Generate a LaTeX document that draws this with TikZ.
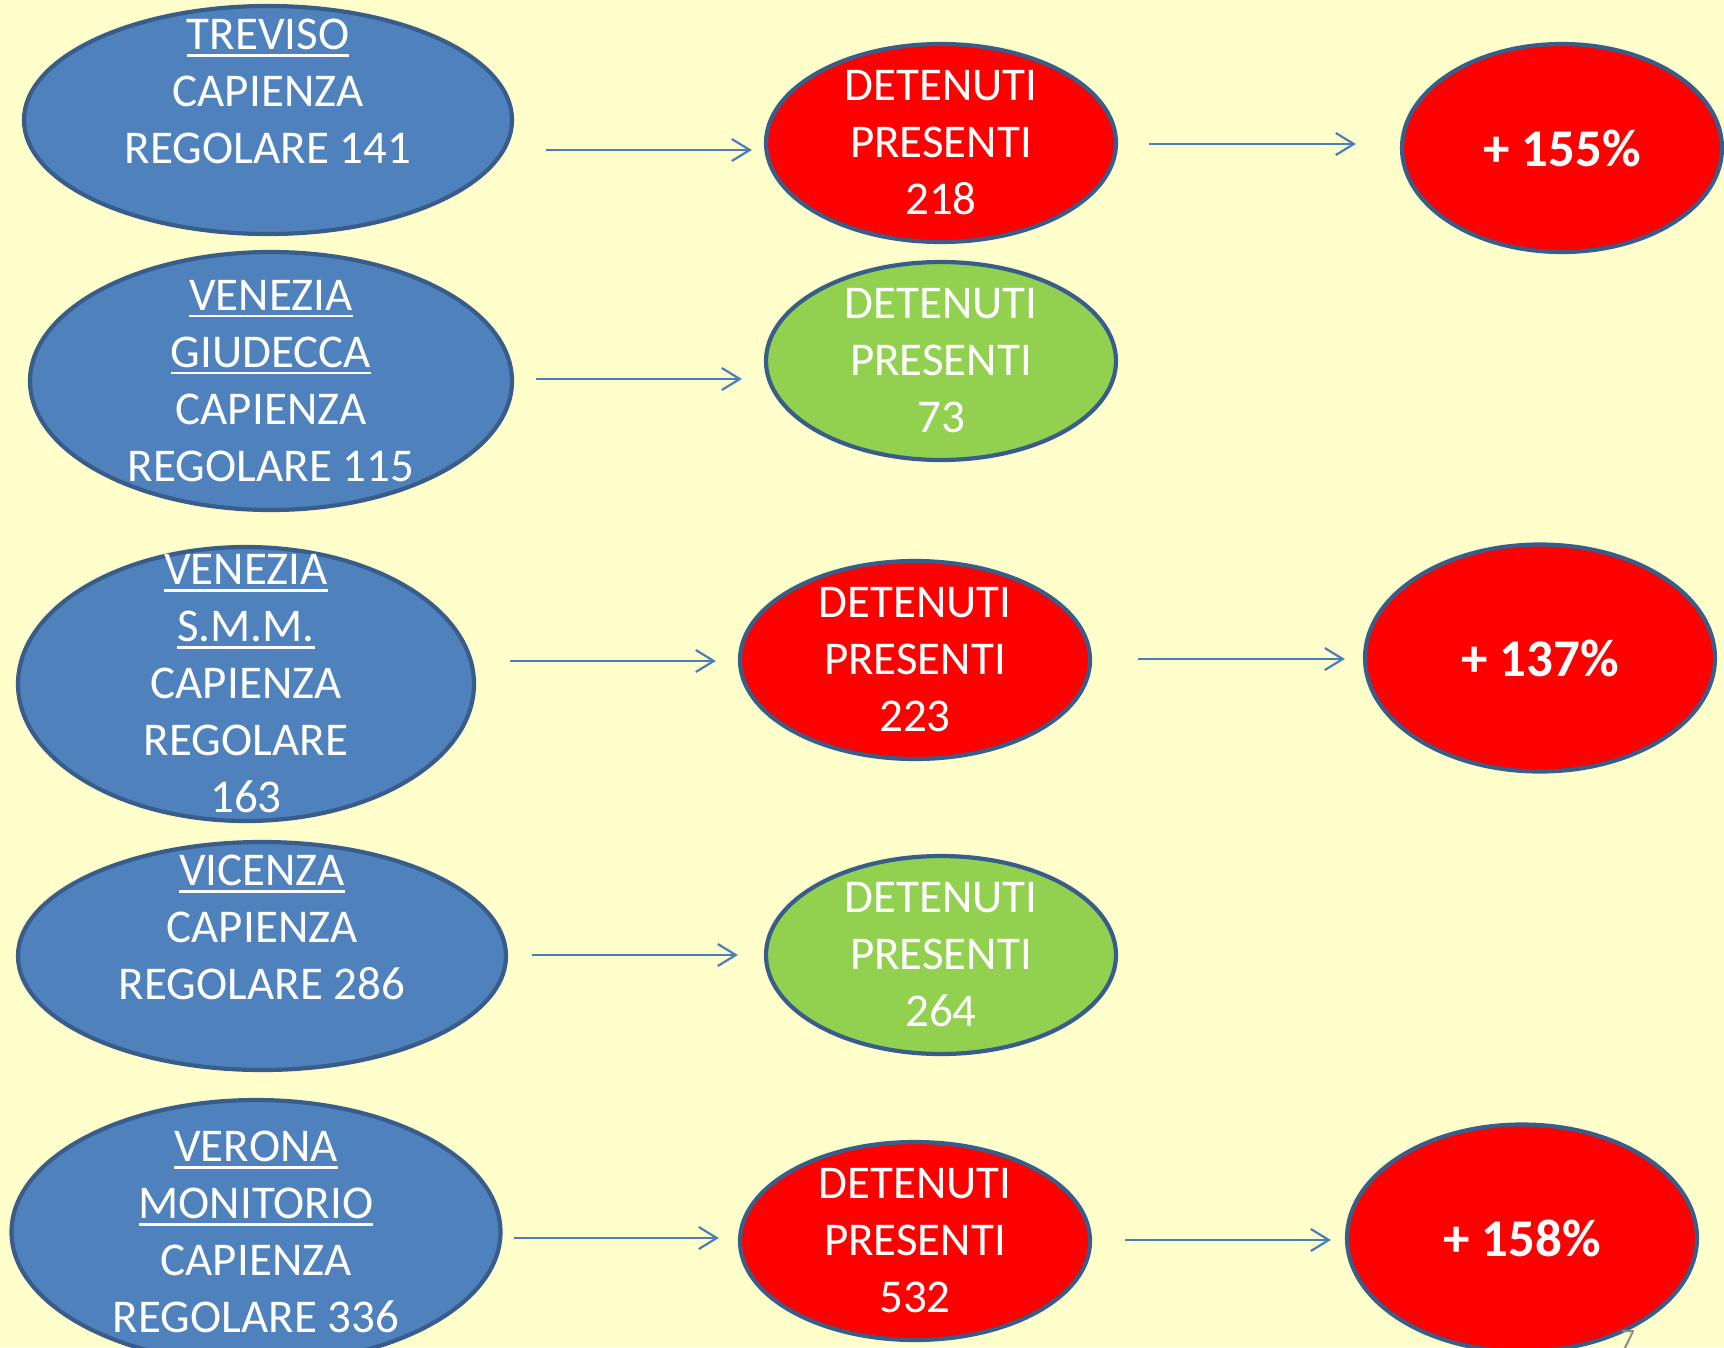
\documentclass[tikz,border=0pt]{standalone}
\usepackage{fontspec}
\setmainfont{Carlito}
\usetikzlibrary{shapes.geometric, arrows.meta}

\definecolor{bgyellow}{HTML}{FFFFCC}
\definecolor{sitefill}{HTML}{4F81BD}
\definecolor{ellline}{HTML}{385D8A}
\definecolor{overred}{HTML}{FF0000}
\definecolor{okgreen}{HTML}{92D050}
\definecolor{arrblue}{HTML}{4A7EBB}
\definecolor{pagegray}{HTML}{8C8C8C}

% thick underline for the prison names
\newcommand{\ulw}[1]{\leavevmode\setbox0=\hbox{#1}\rlap{\rule[-7pt]{\wd0}{2.8pt}}\box0}

\begin{document}
\begin{tikzpicture}[x=1pt, y=-1pt,
    ell/.style={ellipse, draw=ellline, line width=4.2pt, inner sep=-300pt,
        text=white, align=center, font=\fontsize{47}{57}\selectfont},
    sitebox/.style={ell, fill=sitefill, minimum width=488pt, minimum height=228pt},
    countbox/.style={ell, minimum width=350pt, minimum height=198pt},
    pctbox/.style={ell, fill=overred, minimum width=350pt, minimum height=227pt,
        font=\bfseries\fontsize{53}{64}\selectfont},
    arr/.style={draw=arrblue, line width=2.2pt, -{Straight Barb[length=18pt, width=22pt]}}
    ]
    \useasboundingbox (0,0) rectangle (1724,1347);
    \fill[bgyellow] (0,0) rectangle (1724,1347);

    % Regular capacity of each prison
    \node[sitebox] (tre) at (268,120) {\ulw{TREVISO}\\CAPIENZA\\REGOLARE 141\\\mbox{}};
    \node[sitebox, minimum width=482pt, minimum height=258pt] (gdc) at (271,381)
        {\ulw{VENEZIA}\\\ulw{GIUDECCA}\\CAPIENZA\\REGOLARE 115};
    \node[sitebox, minimum width=456pt, minimum height=274pt] (smm) at (246,684)
        {\ulw{VENEZIA}\\\ulw{S.M.M.}\\CAPIENZA\\REGOLARE\\163};
    \node[sitebox] (vic) at (262,956) {\ulw{VICENZA}\\CAPIENZA\\REGOLARE 286\\\mbox{}};
    \node[sitebox, minimum width=489pt, minimum height=264pt] (ver) at (256,1232)
        {\ulw{VERONA}\\\ulw{MONITORIO}\\CAPIENZA\\REGOLARE 336};

    % Prisoners present
    \node[countbox, fill=overred] (det1) at (941,143) {DETENUTI\\PRESENTI\\218};
    \node[countbox, fill=okgreen] (gr1) at (941,361) {DETENUTI\\PRESENTI\\73};
    \node[countbox, fill=overred] (det2) at (915,660) {DETENUTI\\PRESENTI\\223};
    \node[countbox, fill=okgreen] (gr2) at (941,955) {DETENUTI\\PRESENTI\\264};
    \node[countbox, fill=overred] (det3) at (915,1241) {DETENUTI\\PRESENTI\\532};

    % Overcrowding
    \node[pctbox, minimum width=320pt, minimum height=208pt] (pct1) at (1562,148) {+ 155\%};
    \node[pctbox] (pct2) at (1540,658) {+ 137\%};
    \node[pctbox] (pct3) at (1522,1238) {+ 158\%};

    % Draw arrows: from / to / gap at start / gap at end / vertical offset
    \def\links{tre/det1/32/12/30, det1/pct1/31/44/1, gdc/gr1/22/22/-2,
        smm/det2/34/22/-23, det2/pct2/46/18/-1, vic/gr2/24/26/-1,
        ver/det3/11/19/6, det3/pct3/33/14/-1}
    \foreach \a/\b/\s/\e/\dy in \links {
        \draw[arr, shorten <=\s pt, shorten >=\e pt]
            ([yshift=-\dy pt]\a.east) -- ([yshift=-\dy pt]\a.east -| \b.west);
    }

    \node[text=pagegray, font=\fontsize{28}{32}\selectfont, anchor=base] (pagenum) at (1628,1348) {7};
\end{tikzpicture}
\end{document}
